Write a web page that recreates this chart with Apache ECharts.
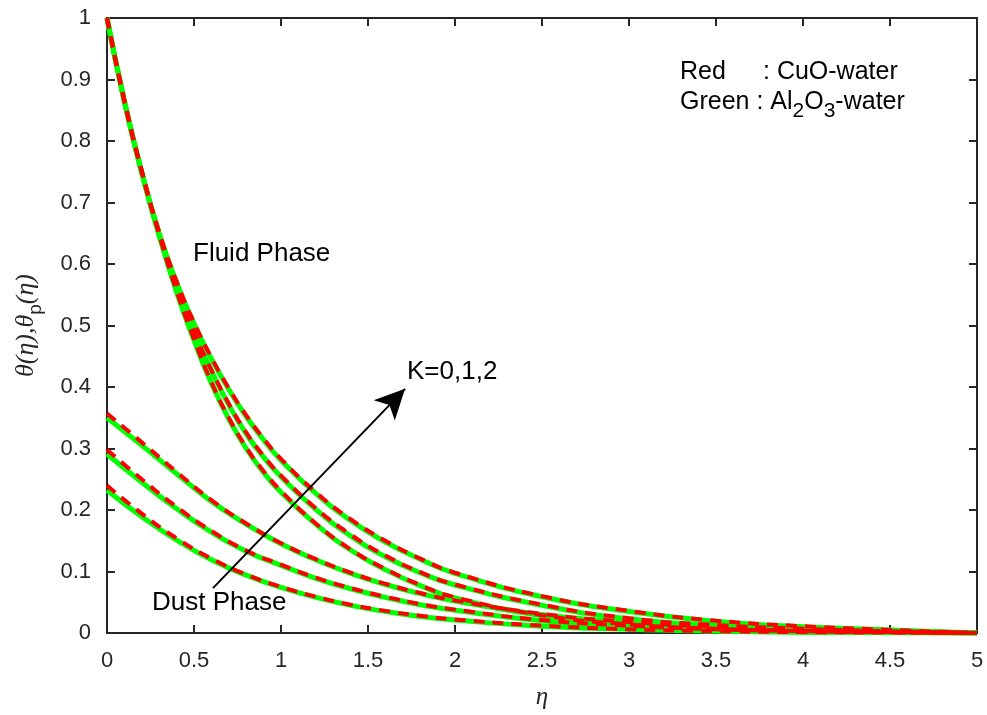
<!DOCTYPE html>
<html>
<head>
<meta charset="utf-8">
<script src="https://cdn.jsdelivr.net/npm/echarts@6/dist/echarts.min.js"></script>
<style>
html, body { margin: 0; padding: 0; background: #fff; }
#chart { width: 987px; height: 715px; }
</style>
</head>
<body>
<div id="chart"></div>
<script>
// eta grid of the fluid phase curves
const etaFluid = [0, 0.1, 0.2, 0.3, 0.4, 0.5, 0.6, 0.7, 0.8, 0.9, 1.0, 1.2, 1.4, 1.6, 1.8, 2.0, 2.5, 3.0, 3.5, 4.0, 4.5, 5.0];
// red = CuO-water, green = Al2O3-water, K = 0, 1, 2
const fluidRedK0 = [1, 0.865, 0.75, 0.648, 0.556, 0.478, 0.408, 0.35, 0.302, 0.263, 0.231, 0.178, 0.136, 0.104, 0.078, 0.058, 0.029, 0.014, 0.007, 0.0035, 0.0015, 0];
const fluidRedK1 = [1, 0.865, 0.75, 0.649, 0.562, 0.490, 0.428, 0.373, 0.326, 0.288, 0.256, 0.203, 0.160, 0.126, 0.099, 0.079, 0.046, 0.024, 0.013, 0.007, 0.003, 0];
const fluidRedK2 = [1, 0.866, 0.751, 0.652, 0.572, 0.505, 0.448, 0.398, 0.354, 0.316, 0.283, 0.229, 0.185, 0.150, 0.121, 0.098, 0.060, 0.036, 0.020, 0.011, 0.005, 0];
const fluidGreenK0 = [1, 0.864, 0.748, 0.646, 0.554, 0.476, 0.406, 0.348, 0.300, 0.261, 0.229, 0.177, 0.135, 0.103, 0.077, 0.057, 0.028, 0.013, 0.006, 0.003, 0.001, 0];
const fluidGreenK1 = [1, 0.864, 0.748, 0.647, 0.560, 0.488, 0.426, 0.371, 0.324, 0.286, 0.254, 0.201, 0.158, 0.124, 0.098, 0.078, 0.045, 0.023, 0.012, 0.006, 0.003, 0];
const fluidGreenK2 = [1, 0.865, 0.749, 0.650, 0.570, 0.503, 0.446, 0.396, 0.352, 0.314, 0.281, 0.227, 0.183, 0.148, 0.120, 0.097, 0.059, 0.035, 0.019, 0.010, 0.005, 0];

// eta grid of the dust phase curves
const etaDust = [0, 0.2, 0.4, 0.6, 0.8, 1.0, 1.2, 1.4, 1.6, 1.8, 2.0, 2.5, 3.0, 3.5, 4.0, 4.5, 5.0];
const dustRedK0 = [0.240, 0.194, 0.154, 0.121, 0.095, 0.075, 0.059, 0.046, 0.036, 0.028, 0.022, 0.012, 0.006, 0.003, 0.0015, 0.0007, 0];
const dustRedK1 = [0.298, 0.250, 0.205, 0.166, 0.134, 0.111, 0.090, 0.073, 0.059, 0.047, 0.038, 0.021, 0.012, 0.006, 0.003, 0.0015, 0];
const dustRedK2 = [0.357, 0.310, 0.262, 0.216, 0.178, 0.146, 0.120, 0.098, 0.080, 0.065, 0.053, 0.031, 0.018, 0.010, 0.005, 0.002, 0];
const dustGreenK0 = [0.232, 0.189, 0.151, 0.119, 0.094, 0.074, 0.058, 0.045, 0.035, 0.027, 0.021, 0.011, 0.006, 0.003, 0.001, 0.0005, 0];
const dustGreenK1 = [0.291, 0.245, 0.202, 0.164, 0.133, 0.110, 0.089, 0.072, 0.058, 0.046, 0.037, 0.020, 0.011, 0.006, 0.003, 0.001, 0];
const dustGreenK2 = [0.350, 0.305, 0.259, 0.214, 0.177, 0.145, 0.119, 0.097, 0.079, 0.064, 0.052, 0.030, 0.017, 0.009, 0.005, 0.002, 0];

// arrow "K=0,1,2" (data coordinates)
const arrowFrom = [0.609, 0.073];
const arrowTo = [1.713, 0.397];

const AXIS_COLOR = '#262626';
const FONT = 'Liberation Sans, Arial, Helvetica, sans-serif';
const MATH_FONT = 'Liberation Serif, Times New Roman, serif';

const pairs = (xs, ys) => xs.map((x, i) => [x, ys[i]]);

const greenLine = (xs, ys) => ({
  type: 'line',
  data: pairs(xs, ys),
  smooth: true,
  showSymbol: false,
  silent: true,
  lineStyle: { color: '#00ff00', width: 5 }
});
const redLine = (xs, ys) => ({
  type: 'line',
  data: pairs(xs, ys),
  smooth: true,
  showSymbol: false,
  silent: true,
  lineStyle: { color: '#ff0000', width: 4, type: [11, 8] }
});

const chart = echarts.init(document.getElementById('chart'));

const xAxisBase = {
  type: 'value',
  min: 0,
  max: 5,
  interval: 0.5,
  axisLine: { show: true, onZero: false, lineStyle: { color: AXIS_COLOR, width: 2 } },
  axisTick: { show: true, inside: true, length: 8, lineStyle: { color: AXIS_COLOR, width: 2 } },
  splitLine: { show: false }
};
const yAxisBase = {
  type: 'value',
  min: 0,
  max: 1,
  interval: 0.1,
  axisLine: { show: true, onZero: false, lineStyle: { color: AXIS_COLOR, width: 2 } },
  axisTick: { show: true, inside: true, length: 8, lineStyle: { color: AXIS_COLOR, width: 2 } },
  splitLine: { show: false }
};

const option = {
  animation: false,
  backgroundColor: '#fff',
  grid: { left: 107, right: 10, top: 18, bottom: 82 },
  xAxis: [
    Object.assign({}, xAxisBase, {
      position: 'bottom',
      axisLabel: { color: AXIS_COLOR, fontSize: 22, fontFamily: FONT, margin: 17 },
      name: 'η',
      nameLocation: 'middle',
      nameGap: 52,
      nameTextStyle: { fontFamily: MATH_FONT, fontStyle: 'italic', fontSize: 25, color: AXIS_COLOR }
    }),
    Object.assign({}, xAxisBase, { position: 'top', axisLabel: { show: false } })
  ],
  yAxis: [
    Object.assign({}, yAxisBase, {
      position: 'left',
      axisLabel: {
        color: AXIS_COLOR, fontSize: 22, fontFamily: FONT, margin: 16,
        formatter: v => String(+v.toFixed(1))
      },
      name: '{t|θ(η),θ}{s|p}{t|(η)}',
      nameLocation: 'middle',
      nameGap: 62,
      nameRotate: 90,
      nameTextStyle: {
        color: AXIS_COLOR,
        rich: {
          t: { fontFamily: MATH_FONT, fontStyle: 'italic', fontSize: 26, lineHeight: 38, color: AXIS_COLOR },
          s: { fontFamily: FONT, fontSize: 19, lineHeight: 38, verticalAlign: 'bottom', color: AXIS_COLOR }
        }
      }
    }),
    Object.assign({}, yAxisBase, { position: 'right', axisLabel: { show: false } })
  ],
  series: [
    greenLine(etaFluid, fluidGreenK0),
    greenLine(etaFluid, fluidGreenK1),
    greenLine(etaFluid, fluidGreenK2),
    greenLine(etaDust, dustGreenK0),
    greenLine(etaDust, dustGreenK1),
    greenLine(etaDust, dustGreenK2),
    redLine(etaFluid, fluidRedK0),
    redLine(etaFluid, fluidRedK1),
    redLine(etaFluid, fluidRedK2),
    redLine(etaDust, dustRedK0),
    redLine(etaDust, dustRedK1),
    redLine(etaDust, dustRedK2),
    {
      type: 'line',
      data: [],
      silent: true,
      markLine: {
        silent: true,
        animation: false,
        symbol: ['none', 'arrow'],
        symbolSize: [22, 30],
        label: { show: false },
        lineStyle: { color: '#000', width: 2, type: 'solid' },
        data: [[{ coord: arrowFrom }, { coord: arrowTo }]]
      }
    }
  ],
  graphic: [
    {
      type: 'text', left: 193, top: 241,
      style: { text: 'Fluid Phase', fontFamily: FONT, fontSize: 26, fill: '#000' }
    },
    {
      type: 'text', left: 152, top: 590,
      style: { text: 'Dust Phase', fontFamily: FONT, fontSize: 26, fill: '#000' }
    },
    {
      type: 'text', left: 407, top: 359,
      style: { text: 'K=0,1,2', fontFamily: FONT, fontSize: 26, fill: '#000' }
    },
    {
      type: 'text', left: 680, top: 60,
      style: { text: 'Red', fontFamily: FONT, fontSize: 25, fill: '#000' }
    },
    {
      type: 'text', left: 763, top: 60,
      style: { text: ': CuO-water', fontFamily: FONT, fontSize: 25, fill: '#000' }
    },
    {
      type: 'text', left: 680, top: 90,
      style: {
        text: '{m|Green : Al}{s|2}{m|O}{s|3}{m|-water}',
        rich: {
          m: { fontFamily: FONT, fontSize: 25, lineHeight: 38, fill: '#000', color: '#000' },
          s: { fontFamily: FONT, fontSize: 21, lineHeight: 38, verticalAlign: 'bottom', fill: '#000', color: '#000' }
        }
      }
    }
  ]
};

chart.setOption(option);
window.addEventListener('resize', () => chart.resize());
</script>
</body>
</html>
